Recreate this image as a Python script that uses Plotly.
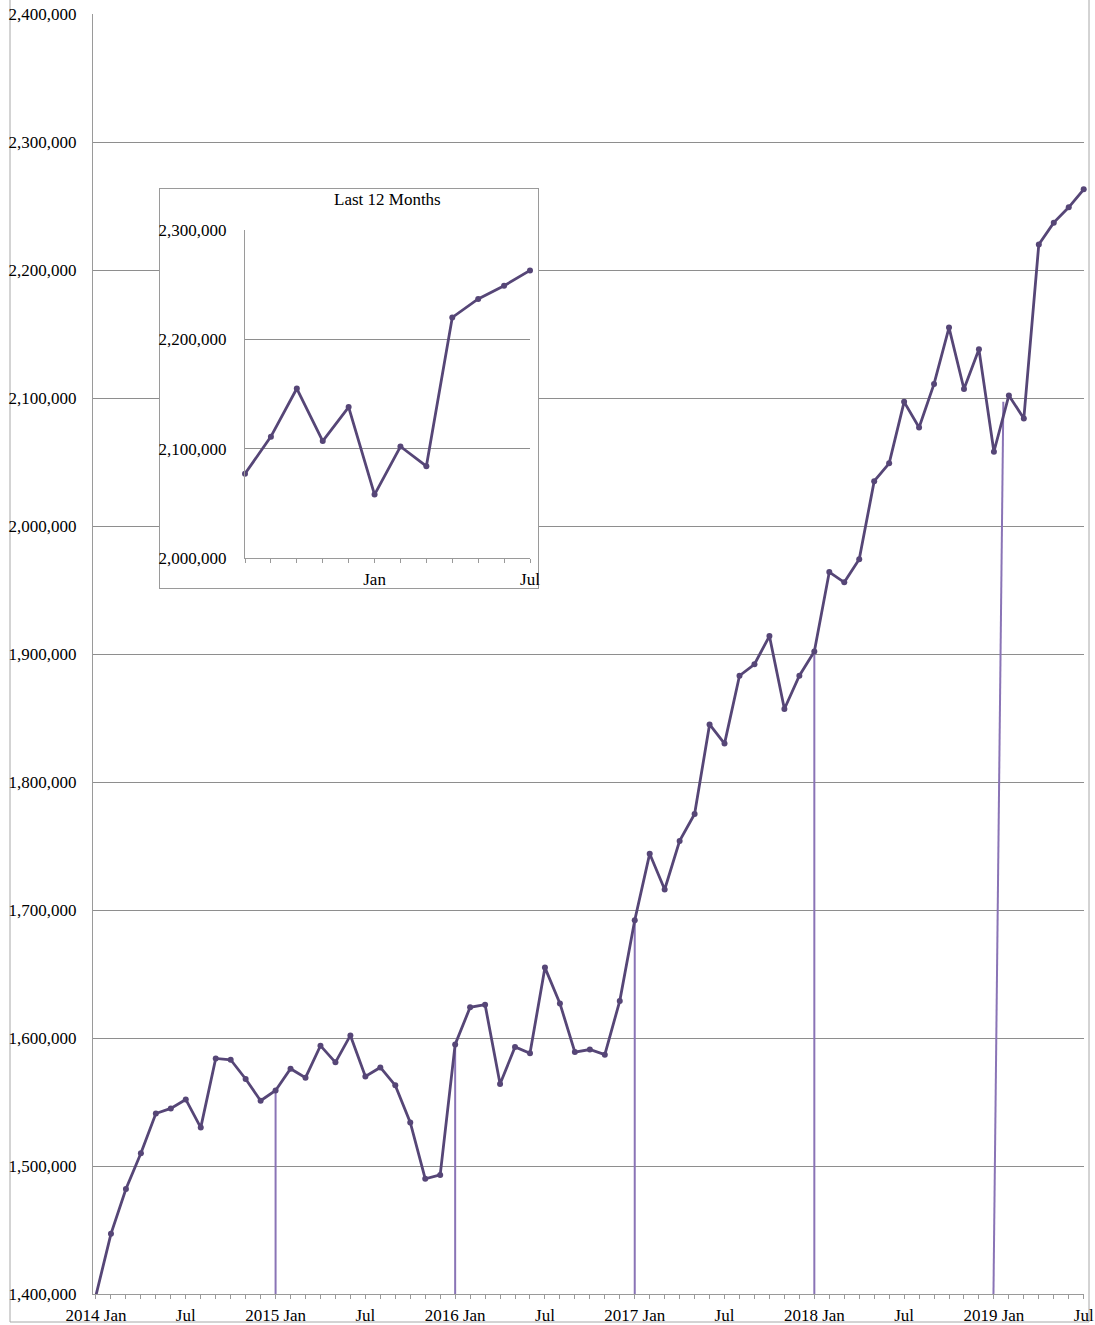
import plotly.graph_objects as go

# ---------------- data ----------------
years = [2014, 2015, 2016, 2017, 2018, 2019]
month_names = ["Jan", "Feb", "Mar", "Apr", "May", "Jun",
               "Jul", "Aug", "Sep", "Oct", "Nov", "Dec"]

values = [
    1399000, 1447000, 1482000, 1510000, 1541000, 1545000,
    1552000, 1530000, 1584000, 1583000, 1568000, 1551000,   # 2014
    1559000, 1576000, 1569000, 1594000, 1581000, 1602000,
    1570000, 1577000, 1563000, 1534000, 1490000, 1493000,   # 2015
    1595000, 1624000, 1626000, 1564000, 1593000, 1588000,
    1655000, 1627000, 1589000, 1591000, 1587000, 1629000,   # 2016
    1692000, 1744000, 1716000, 1754000, 1775000, 1845000,
    1830000, 1883000, 1892000, 1914000, 1857000, 1883000,   # 2017
    1902000, 1964000, 1956000, 1974000, 2035000, 2049000,
    2097000, 2077000, 2111000, 2155000, 2107000, 2138000,   # 2018
    2058000, 2102000, 2084000, 2220000, 2237000, 2249000,
    2263000,                                                # 2019
]

months = [(y, m) for y in years for m in month_names][:len(values)]
idx = list(range(len(values)))

main_ticktext = []
for (y, m) in months:
    if m == "Jan":
        main_ticktext.append(f"{y} Jan")
    elif m == "Jul":
        main_ticktext.append("Jul")
    else:
        main_ticktext.append("")

inset_values = values[-12:]
inset_months = [m for (_, m) in months[-12:]]
inset_idx = list(range(len(inset_values)))
inset_ticktext = [m if m in ("Jan", "Jul") else "" for m in inset_months]

Y_MIN, Y_MAX = 1400000, 2400000
INSET_Y_MIN, INSET_Y_MAX = 2000000, 2300000

# ---------------- styles ----------------
LINE_COLOR = "#564677"
DROP_COLOR = "#8a74b6"
GRID_COLOR = "#8e8e8e"
AXIS_COLOR = "#9a9a9a"
FONT = dict(family="Liberation Serif, Times New Roman, serif", size=17, color="#000000")

# drop lines from each January point (except the first) down to the axis
drop_x, drop_y = [], []
jan_idx = [i for i, (_, m) in enumerate(months) if m == "Jan" and i > 0]
for k, i in enumerate(jan_idx):
    if k == len(jan_idx) - 1 and i + 1 < len(values):
        # last one is drawn slanted in the original
        drop_x += [i + 0.63, i - 0.03, None]
        drop_y += [values[i + 1] - 5000, Y_MIN, None]
    else:
        drop_x += [i, i, None]
        drop_y += [values[i], Y_MIN, None]

fig = go.Figure()

fig.add_trace(go.Scatter(
    x=drop_x, y=drop_y, mode="lines",
    line=dict(color=DROP_COLOR, width=2),
    hoverinfo="skip", showlegend=False, xaxis="x", yaxis="y"))

fig.add_trace(go.Scatter(
    x=idx, y=values, mode="lines+markers",
    line=dict(color=LINE_COLOR, width=2.8),
    marker=dict(color=LINE_COLOR, size=6),
    showlegend=False, xaxis="x", yaxis="y", cliponaxis=False))

# invisible trace to create the inset's frame subplot
fig.add_trace(go.Scatter(
    x=[0.5], y=[0.5], mode="markers", marker=dict(opacity=0),
    hoverinfo="skip", showlegend=False, xaxis="x2", yaxis="y2"))

fig.add_trace(go.Scatter(
    x=inset_idx, y=inset_values, mode="lines+markers",
    line=dict(color=LINE_COLOR, width=2.8),
    marker=dict(color=LINE_COLOR, size=6),
    showlegend=False, xaxis="x3", yaxis="y3", cliponaxis=False))

W, H = 1095, 1325
ML, MR, MT, MB = 93, 11, 14, 31
PW, PH = W - ML - MR, H - MT - MB

def px_x(p):
    return (p - ML) / PW

def px_y(p):
    return (H - MB - p) / PH

fig.update_layout(
    template="none",
    width=W, height=H,
    margin=dict(l=ML, r=MR, t=MT, b=MB, autoexpand=False),
    paper_bgcolor="white", plot_bgcolor="white",
    font=FONT,
    showlegend=False,
    hovermode="closest",
    xaxis=dict(
        domain=[0, 1], range=[-0.2, len(values) - 1 + 0.02],
        tickmode="array", tickvals=idx, ticktext=main_ticktext,
        ticks="outside", ticklen=4, tickcolor=AXIS_COLOR, tickwidth=1,
        showline=True, linecolor=AXIS_COLOR, linewidth=1,
        showgrid=False, zeroline=False, ticklabelstandoff=2,
        tickangle=0, automargin=False,
    ),
    yaxis=dict(
        domain=[0, 1], range=[Y_MIN, Y_MAX], dtick=100000,
        tickformat=",d", ticks="",
        showline=True, linecolor=AXIS_COLOR, linewidth=1,
        showgrid=True, gridcolor=GRID_COLOR, gridwidth=1,
        zeroline=False, ticklabelstandoff=12, automargin=False,
    ),
    xaxis2=dict(
        domain=[px_x(160), px_x(538)], range=[0, 1], anchor="y2",
        showline=True, mirror=True, linecolor=AXIS_COLOR, linewidth=1,
        showgrid=False, zeroline=False, showticklabels=False, ticks="",
        fixedrange=True, automargin=False,
    ),
    yaxis2=dict(
        domain=[px_y(588), px_y(189)], range=[0, 1], anchor="x2",
        showline=True, mirror=True, linecolor=AXIS_COLOR, linewidth=1,
        showgrid=False, zeroline=False, showticklabels=False, ticks="",
        fixedrange=True, automargin=False,
    ),
    xaxis3=dict(
        domain=[px_x(245), px_x(530)], range=[0, len(inset_values) - 1],
        anchor="y3",
        tickmode="array", tickvals=inset_idx, ticktext=inset_ticktext,
        ticks="outside", ticklen=4, tickcolor=AXIS_COLOR,
        showline=True, linecolor=AXIS_COLOR, linewidth=1,
        showgrid=False, zeroline=False, ticklabelstandoff=2, tickangle=0,
        automargin=False,
    ),
    yaxis3=dict(
        domain=[px_y(558), px_y(230)], range=[INSET_Y_MIN, INSET_Y_MAX],
        anchor="x3", dtick=100000, tickformat=",d", ticks="",
        showline=True, linecolor=AXIS_COLOR, linewidth=1,
        showgrid=True, gridcolor=GRID_COLOR, gridwidth=1,
        zeroline=False, ticklabelstandoff=14, automargin=False,
    ),
    annotations=[dict(
        text="Last 12 Months", xref="paper", yref="paper",
        x=(px_x(245) + px_x(530)) / 2, y=px_y(199),
        xanchor="center", yanchor="middle", showarrow=False, font=FONT,
    )],
    shapes=[dict(
        type="rect", xref="paper", yref="paper", layer="below",
        x0=px_x(10), x1=px_x(1089), y0=px_y(1322), y1=px_y(-2),
        line=dict(color="#a8a8a8", width=1), fillcolor="rgba(0,0,0,0)",
    )],
)

fig.write_html(
    "out.html",
    config={"displayModeBar": False},
    post_script="document.body.style.margin='0';document.body.style.overflow='hidden';",
)
